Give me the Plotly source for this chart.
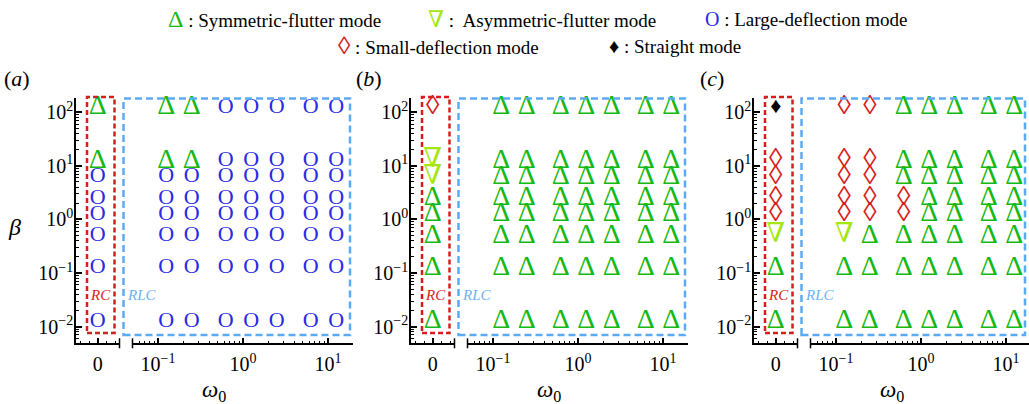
import plotly.graph_objects as go

W, H = 1029, 404

# Parameter grid
omega_rlc = [0.125, 0.25, 0.625, 1.25, 2.5, 6.25, 12.5]
beta = [125, 12.5, 6.25, 2.5, 1.25, 0.5, 0.125, 0.0125]

# Observed mode per beta (top to bottom), one string per omega column.
# S: symmetric flutter, A: asymmetric flutter, L: large deflection,
# D: small deflection, T: straight
modes_rc = {
    "a": "SSLLLLLL",
    "b": "DAASSSSS",
    "c": "TDDDDASS",
}
modes_rlc = {
    "a": ["SSLLLLLL", "SSLLLLLL", "LLLLLLLL", "LLLLLLLL",
          "LLLLLLLL", "LLLLLLLL", "LLLLLLLL"],
    "b": ["SSSSSSSS"] * 7,
    "c": ["DDDDDASS", "DDDDDSSS", "SSSDDSSS", "SSSSSSSS",
          "SSSSSSSS", "SSSSSSSS", "SSSSSSSS"],
}
panels = ["a", "b", "c"]

# tick labels
beta_ticks = [0.01, 0.1, 1, 10, 100]
beta_ticktext = ["10<sup>\u22122</sup>", "10<sup>\u22121</sup>", "10<sup>0</sup>",
                 "10<sup>1</sup>", "10<sup>2</sup>"]
omega_ticks = [0.1, 1, 10]
omega_ticktext = ["10<sup>\u22121</sup>", "10<sup>0</sup>", "10<sup>1</sup>"]
# log minor ticks at 2..9 in every decade
log_minor = [m * 10.0 ** e for e in range(-3, 3) for m in range(2, 10)]

SERIF = "Liberation Serif, DejaVu Serif, serif"

# glyph, colour, font size
GLYPH = {
    "S": ("\u0394", "#14b914", 28),
    "A": ("\u2207", "#a4e60e", 27),
    "L": ("O", "#2a2ae6", 22),
    "D": ("\u25CA", "#d61a1a", 27),
    "T": ("\u2666", "#000000", 22),
}
LEGEND_GLYPH_SIZE = {"S": 24, "A": 23, "L": 20, "D": 25, "T": 20}

# pixel layout of the three panels
panel_x0 = [76, 411, 754]
seg1_w, gap, seg2_w = 43.5, 13.0, 220.0
y_top, y_bot = 98.3, 343.3
px_per_dec = 85.0
seg2_lo = -1.30


def px(x):
    return x / W


def py(y):
    return 1 - y / H


fig = go.Figure()
layout = {}

for i, p in enumerate(panels):
    x0 = panel_x0[i]
    xa1 = f"xaxis{2 * i + 1 if i else ''}"
    xa2 = f"xaxis{2 * i + 2}"
    ya = f"yaxis{i + 1 if i else ''}"
    xr1 = f"x{2 * i + 1 if i else ''}"
    xr2 = f"x{2 * i + 2}"
    yr = f"y{i + 1 if i else ''}"

    s1a, s1b = x0, x0 + seg1_w
    s2a = s1b + gap
    s2b = min(s2a + seg2_w, W)
    hi = seg2_lo + (s2b - s2a) / px_per_dec

    axis_common = dict(
        showline=True, linecolor="black", linewidth=1.5,
        ticks="inside", tickcolor="black", tickwidth=1.5, ticklen=6,
        showgrid=False, zeroline=False,
        tickfont=dict(family=SERIF, size=20, color="black"),
    )
    minor = dict(ticks="inside", ticklen=3, tickcolor="black",
                 tickwidth=1, showgrid=False)
    layout[xa1] = dict(
        axis_common, domain=[px(s1a), px(s1b)], range=[-1, 1],
        anchor=yr, tickvals=[0], ticktext=["0"], ticklabelstandoff=2,
        minor=dict(minor, dtick=0.4, tick0=0),
    )
    layout[xa2] = dict(
        axis_common, type="log", domain=[px(s2a), px(s2b)],
        range=[seg2_lo, hi], anchor=yr, ticklabelstandoff=2,
        tickvals=omega_ticks, ticktext=omega_ticktext,
        minor=dict(minor, tickmode="array", tickvals=log_minor),
    )
    layout[ya] = dict(
        axis_common, type="log", domain=[py(y_bot), py(y_top)],
        range=[-2.31, 2.26], anchor=xr1, ticklabelstandoff=-3,
        tickvals=beta_ticks, ticktext=beta_ticktext,
        minor=dict(minor, tickmode="array", tickvals=log_minor),
    )

    for code, (ch, col, size) in GLYPH.items():
        tf = dict(family=SERIF, size=size, color=col)
        # RC column at omega0 = 0
        ys = [b for b, m in zip(beta, modes_rc[p]) if m == code]
        if ys:
            fig.add_trace(go.Scatter(
                x=[0] * len(ys), y=ys, mode="text", text=[ch] * len(ys),
                textfont=tf, xaxis=xr1, yaxis=yr, cliponaxis=False,
                showlegend=False))
        # RLC grid
        xs, ys = [], []
        for w, col_modes in zip(omega_rlc, modes_rlc[p]):
            for b, m in zip(beta, col_modes):
                if m == code:
                    xs.append(w)
                    ys.append(b)
        if xs:
            fig.add_trace(go.Scatter(
                x=xs, y=ys, mode="text", text=[ch] * len(xs),
                textfont=tf, xaxis=xr2, yaxis=yr, cliponaxis=False,
                showlegend=False))

layout_shapes = []
annotations = []


def label(text, x, y, size, color="black", xanchor="center"):
    return dict(text=text, x=px(x), y=py(y), xref="paper", yref="paper",
                showarrow=False, xanchor=xanchor, yanchor="middle",
                font=dict(family=SERIF, size=size, color=color))


for i, p in enumerate(panels):
    x0 = panel_x0[i]
    s1b = x0 + seg1_w
    s2a = s1b + gap
    # axis break marks
    for bx in (s1b, s2a):
        layout_shapes.append(dict(
            type="line", xref="paper", yref="paper",
            x0=px(bx), x1=px(bx), y0=py(y_bot - 5), y1=py(y_bot + 5),
            line=dict(color="black", width=1.5)))
    # RC region
    layout_shapes.append(dict(
        type="rect", xref="paper", yref="paper",
        x0=px(x0 + 11), x1=px(x0 + 38.5), y0=py(333), y1=py(97),
        line=dict(color="#d41e1e", width=2.5, dash="5px,3px")))
    # RLC region
    layout_shapes.append(dict(
        type="rect", xref="paper", yref="paper",
        x0=px(x0 + 47.5), x1=px(min(x0 + 274, W - 4)), y0=py(335), y1=py(98.5),
        line=dict(color="#5caaf4", width=2.5, dash="7px,4px")))

    annotations += [
        label("<i>RC</i>", x0 + 24.5, 295, 15, "#d41e1e"),
        label("<i>RLC</i>", x0 + 66, 295, 15, "#6cb2f2"),
        label(f"(<i>{p}</i>)", [17, 369, 712][i], 79, 22),
        label("<i>\u03c9</i><sub>0</sub>", x0 + 138, 391, 23),
    ]

annotations.append(label("<i>\u03b2</i>", 14, 227, 24))

# legend entries
legend_items = [
    ("S", ": Symmetric-flutter mode", 166, 19),
    ("A", ":  Asymmetric-flutter mode", 426, 19),
    ("L", ": Large-deflection mode", 703, 19),
    ("D", ": Small-deflection mode", 336, 46),
    ("T", ": Straight mode", 607, 46),
]
for code, text, lx, ly in legend_items:
    ch, col = GLYPH[code][:2]
    gs = LEGEND_GLYPH_SIZE[code]
    annotations.append(label(
        f"<span style='color:{col};font-size:{gs}px'>{ch}</span> {text}",
        lx, ly, 19, xanchor="left"))

fig.update_layout(
    **layout,
    width=W, height=H,
    margin=dict(l=0, r=0, t=0, b=0),
    paper_bgcolor="white", plot_bgcolor="white",
    shapes=layout_shapes, annotations=annotations,
    showlegend=False,
)

fig.write_html("out.html")
